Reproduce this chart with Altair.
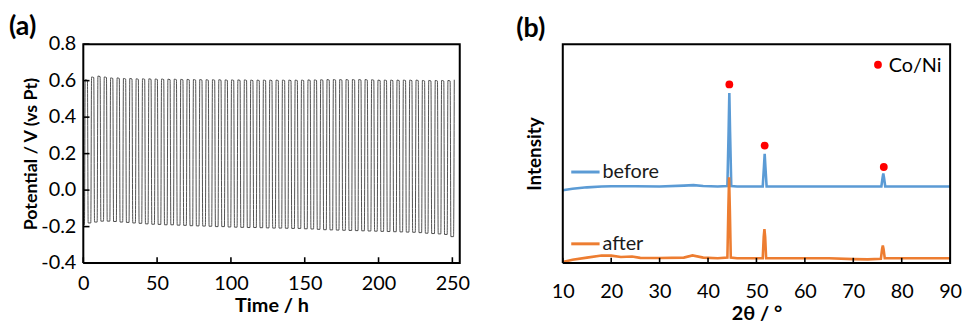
import altair as alt
import pandas as pd

# ---------------- Panel (a): galvanostatic cycling ----------------
RISE_TIMES = [0.8, 5.1, 9.4, 13.7, 18.0, 22.4, 26.7, 31.0, 35.3, 39.6,
              43.9, 48.2, 52.5, 56.8, 61.1, 65.5, 69.8, 74.1, 78.4, 82.7,
              87.0, 91.3, 95.6, 99.9, 104.2, 108.6, 112.9, 117.2, 121.5, 125.8,
              130.1, 134.4, 138.7, 143.0, 147.3, 151.7, 156.0, 160.3, 164.6, 168.9,
              173.2, 177.5, 181.8, 186.1, 190.4, 194.8, 199.1, 203.4, 207.7, 212.0,
              216.3, 220.6, 224.9, 229.2, 233.5, 237.9, 242.2, 246.5, 250.8]
LOWS = [-0.19, -0.18, -0.175, -0.17, -0.17, -0.172, -0.175, -0.177, -0.18, -0.182,
        -0.185, -0.187, -0.188, -0.19, -0.19, -0.192, -0.193, -0.195, -0.196, -0.197,
        -0.198, -0.2, -0.2, -0.202, -0.203, -0.204, -0.205, -0.205, -0.206, -0.207,
        -0.208, -0.208, -0.209, -0.21, -0.21, -0.212, -0.213, -0.215, -0.217, -0.218,
        -0.219, -0.22, -0.221, -0.222, -0.223, -0.224, -0.225, -0.226, -0.227, -0.228,
        -0.229, -0.23, -0.231, -0.233, -0.236, -0.238, -0.24, -0.243, -0.255]
HIGHS = [0.605, 0.62, 0.625, 0.62, 0.615, 0.615, 0.612, 0.612, 0.61, 0.61,
         0.61, 0.609, 0.609, 0.608, 0.608, 0.607, 0.607, 0.606, 0.606, 0.605,
         0.605, 0.605, 0.604, 0.604, 0.604, 0.604, 0.603, 0.603, 0.603, 0.603,
         0.603, 0.603, 0.603, 0.603, 0.603, 0.604, 0.604, 0.605, 0.606, 0.606,
         0.606, 0.606, 0.606, 0.606, 0.606, 0.605, 0.603, 0.603, 0.603, 0.603,
         0.603, 0.603, 0.603, 0.601, 0.601, 0.601, 0.601, 0.601, 0.605]
X_DOMAIN_A = [0, 255]
Y_DOMAIN_A = [-0.4, 0.8]
TICKS_A_X = [0, 50, 100, 150, 200, 250]
TICKS_A_Y = [-0.4, -0.2, 0.0, 0.2, 0.4, 0.6, 0.8]
LABELS_A_Y = ["-0.4", "-0.2", "0.0", "0.2", "0.4", "0.6", "0.8"]

rows = [{"x": 0.0, "y": LOWS[0]}]
n = len(RISE_TIMES)
for k in range(n):
    t = RISE_TIMES[k]
    rows.append({"x": t, "y": LOWS[k]})
    rows.append({"x": t + 0.5, "y": HIGHS[k]})
    if k < n - 1:
        rows.append({"x": t + 2.0, "y": HIGHS[k] - 0.003})
        rows.append({"x": t + 2.5, "y": LOWS[k + 1]})
df_a = pd.DataFrame(rows)

# ---------------- Panel (b): XRD ----------------
X_DOMAIN_B = [10, 90]
Y_DOMAIN_B = [0, 1]
BEFORE_X = [10, 12, 15, 18, 20, 25, 30, 35, 37, 39, 42, 44.0, 44.25, 44.4, 44.55, 44.8,
            46, 51.3, 51.55, 51.7, 51.85, 52.1, 55, 60, 65, 70, 75.8, 76.05, 76.2, 76.35, 76.6, 80, 85, 90]
BEFORE_Y = [0.333, 0.340, 0.346, 0.350, 0.351, 0.351, 0.350, 0.354, 0.356, 0.352, 0.350, 0.352, 0.60, 0.777, 0.60, 0.352,
            0.350, 0.350, 0.44, 0.499, 0.44, 0.350, 0.350, 0.350, 0.350, 0.350, 0.350, 0.39, 0.409, 0.39, 0.350, 0.350, 0.350, 0.350]
AFTER_X = [10, 12, 15, 18, 20, 22, 24.3, 26, 30, 35, 36.8, 39, 42, 44.0, 44.2, 44.35, 44.5, 44.7,
           46, 51.3, 51.5, 51.65, 51.8, 52.0, 55, 60, 65, 70, 73, 75.7, 75.95, 76.1, 76.25, 76.5, 80, 85, 90]
AFTER_Y = [0.005, 0.015, 0.025, 0.035, 0.034, 0.028, 0.030, 0.024, 0.023, 0.025, 0.035, 0.025, 0.022, 0.025, 0.25, 0.392, 0.25, 0.025,
           0.022, 0.022, 0.12, 0.155, 0.12, 0.022, 0.022, 0.022, 0.022, 0.018, 0.017, 0.020, 0.065, 0.080, 0.065, 0.022, 0.022, 0.022, 0.022]
PEAK_X = [44.4, 51.7, 76.3]
PEAK_Y = [0.816, 0.537, 0.439]
LEGEND_NAMES = ["before", "after"]
LEGEND_COLORS = ["#5b9bd5", "#ed7d31"]
LEGEND_Y = [0.416, 0.088]
TICKS_B_X = [10, 20, 30, 40, 50, 60, 70, 80, 90]

FONT = "Lato"
INK = "#000000"
W_A, W_B, H = 380, 391, 221
LFS = 20   # tick label font size
TFS = 20   # axis title font size


def frame_path(xd, yd):
    # closed outline through the four corners of the plot domain, drawn as a line path
    df = pd.DataFrame({"x": [xd[0], xd[1], xd[1], xd[0], xd[0]],
                       "y": [yd[0], yd[0], yd[1], yd[1], yd[0]],
                       "o": [0, 1, 2, 3, 4]})
    return alt.Chart(df).mark_line(color=INK, strokeWidth=2, strokeJoin="miter").encode(
        x="x:Q", y="y:Q", order="o:Q")


def tick_paths(xs, ys):
    # short inward tick segments, one path per tick
    df = pd.DataFrame({"x": xs, "y": ys, "g": [i // 2 for i in range(len(xs))],
                       "o": [i % 2 for i in range(len(xs))]})
    return alt.Chart(df).mark_line(color=INK, strokeWidth=1.6).encode(
        x="x:Q", y="y:Q", detail="g:N", order="o:Q")


# ---- panel (a) chart ----
xa = alt.X("x:Q", scale=alt.Scale(domain=X_DOMAIN_A, nice=False),
           axis=alt.Axis(values=TICKS_A_X, ticks=False, domain=False, grid=False,
                         labelOverlap=False, labelFlush=False,
                         labelPadding=11, labelFontSize=LFS, labelFont=FONT, labelColor="black",
                         title="Time / h", titleFontSize=TFS, titleFont=FONT, titleFontWeight="bold",
                         titleColor="black", titlePadding=2))
ya = alt.Y("y:Q", scale=alt.Scale(domain=Y_DOMAIN_A, nice=False),
           axis=alt.Axis(labels=False, ticks=False, domain=False, grid=False,
                         title="Potential / V (vs Pt)", titleFontSize=18, titleFont=FONT,
                         titleFontWeight="bold", titleColor="black", titlePadding=43))

line_a = alt.Chart(df_a).mark_line(color="#3c3c3c", strokeWidth=0.9, interpolate="monotone").encode(x=xa, y=ya)
ylab_a = alt.Chart(pd.DataFrame({"y": TICKS_A_Y, "t": LABELS_A_Y})).mark_text(
    font=FONT, fontSize=LFS, align="right", baseline="middle", color="black").encode(
    y="y:Q", text="t:N", x=alt.value(-7))
tx_a, ty_a = [], []
for v in TICKS_A_X:
    tx_a += [v, v]
    ty_a += [-0.4, -0.368]
for v in TICKS_A_Y:
    tx_a += [0, 4.2]
    ty_a += [v, v]
ticks_a = tick_paths(tx_a, ty_a)
lab_a = alt.Chart(pd.DataFrame({"t": ["(a)"]})).mark_text(
    font=FONT, fontSize=27, fontWeight="bold", align="left", baseline="alphabetic", color="black").encode(
    text="t:N", x=alt.value(-75), y=alt.value(-9))
panel_a = alt.layer(line_a, ticks_a, frame_path(X_DOMAIN_A, Y_DOMAIN_A), ylab_a, lab_a).properties(
    width=W_A, height=H)

# ---- panel (b) chart ----
df_before = pd.DataFrame({"x": BEFORE_X, "y": BEFORE_Y})
df_after = pd.DataFrame({"x": AFTER_X, "y": AFTER_Y})
xb = alt.X("x:Q", scale=alt.Scale(domain=X_DOMAIN_B, nice=False),
           axis=alt.Axis(values=TICKS_B_X, ticks=False, domain=False, grid=False,
                         labelOverlap=False, labelFlush=False,
                         labelPadding=19, labelFontSize=LFS, labelFont=FONT, labelColor="black",
                         title="2θ / °", titleFontSize=TFS, titleFont=FONT, titleFontWeight="bold",
                         titleColor="black", titlePadding=2))
yb = alt.Y("y:Q", scale=alt.Scale(domain=Y_DOMAIN_B, nice=False),
           axis=alt.Axis(labels=False, ticks=False, domain=False, grid=False,
                         title="Intensity", titleFontSize=19, titleFont=FONT, titleFontWeight="bold",
                         titleColor="black", titlePadding=18))

before = alt.Chart(df_before).mark_line(color=LEGEND_COLORS[0], strokeWidth=2.6).encode(x=xb, y=yb)
after = alt.Chart(df_after).mark_line(color=LEGEND_COLORS[1], strokeWidth=2.6).encode(x="x:Q", y="y:Q")
dots = alt.Chart(pd.DataFrame({"x": PEAK_X + [75.1], "y": PEAK_Y + [0.906]})).mark_circle(
    color="#ff0000", opacity=1, size=62).encode(x="x:Q", y="y:Q")
co_txt = alt.Chart(pd.DataFrame({"x": [77.3], "y": [0.902], "t": ["Co/Ni"]})).mark_text(
    font=FONT, fontSize=20, align="left", baseline="middle", color="black").encode(x="x:Q", y="y:Q", text="t:N")
leg_df = pd.DataFrame({"x": [11.75] * 2, "x2": [17.6] * 2, "y": LEGEND_Y, "c": LEGEND_COLORS,
                       "tx": [18.2] * 2, "name": LEGEND_NAMES})
leg_lines = alt.Chart(leg_df).mark_rule(strokeWidth=3).encode(
    x="x:Q", x2="x2:Q", y="y:Q", color=alt.Color("c:N", scale=None))
leg_txt = alt.Chart(leg_df).mark_text(font=FONT, fontSize=20, align="left", baseline="middle",
                                      color="#1a1a1a").encode(x="tx:Q", y="y:Q", text="name:N")
tx_b, ty_b = [], []
for v in TICKS_B_X:
    tx_b += [v, v]
    ty_b += [0, 0.024]
ticks_b = tick_paths(tx_b, ty_b)
lab_b = alt.Chart(pd.DataFrame({"t": ["(b)"]})).mark_text(
    font=FONT, fontSize=27, fontWeight="bold", align="left", baseline="alphabetic", color="black").encode(
    text="t:N", x=alt.value(-47), y=alt.value(-7))
panel_b = alt.layer(before, after, dots, co_txt, leg_lines, leg_txt, ticks_b,
                    frame_path(X_DOMAIN_B, Y_DOMAIN_B), lab_b).properties(width=W_B, height=H)

chart = alt.hconcat(panel_a, panel_b, spacing=45).properties(
    padding={"left": 0, "top": 3, "right": 0, "bottom": 0}).configure_view(
    stroke="#000000", strokeWidth=2).configure(background="white")

chart.save("out.html", embed_options={"renderer": "svg", "actions": False})
